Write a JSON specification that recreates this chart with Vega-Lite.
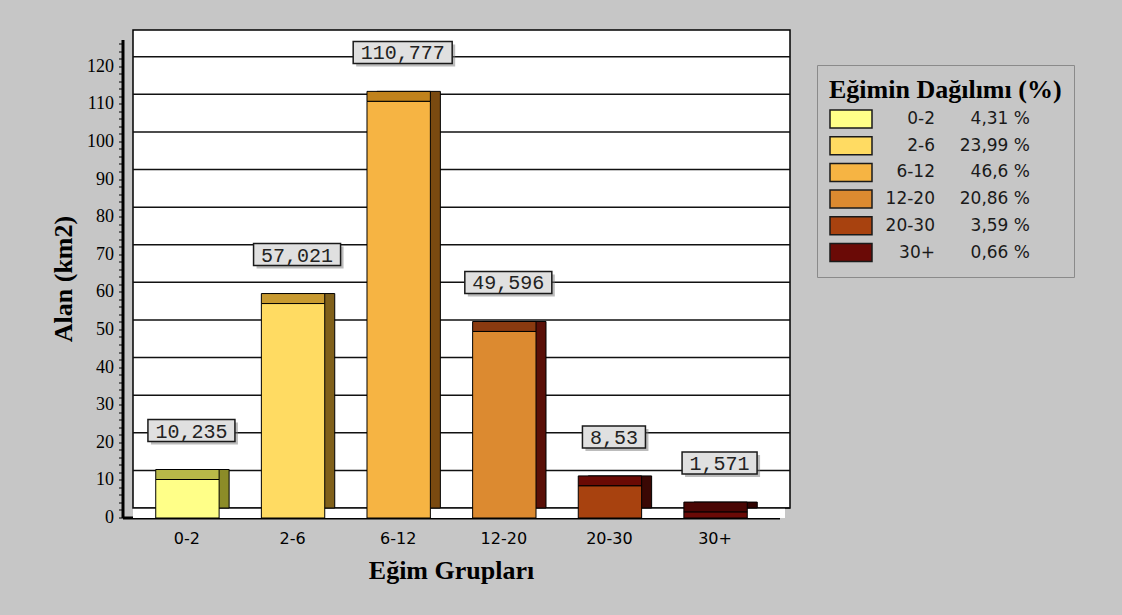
{
  "$schema": "https://vega.github.io/schema/vega-lite/v6.json",
  "width": 657,
  "height": 478,
  "autosize": {"type": "none"},
  "padding": {"left": 133, "top": 30, "right": 332, "bottom": 107},
  "background": "#c6c6c6",
  "view": {"fill": "#ffffff", "stroke": "#000000", "strokeWidth": 1.5},
  "config": {
    "axisX": {
      "titleFont": "Liberation Serif", "titleFontSize": 26, "titleFontWeight": "bold",
      "titleColor": "#000000", "titlePadding": 11,
      "labelFont": "DejaVu Sans", "labelFontSize": 16, "labelColor": "#000000", "labelAngle": 0, "labelPadding": 13,
      "ticks": false, "domainColor": "#000000", "domainWidth": 3, "grid": false,
      "offset": 20, "translate": -10
    },
    "axisY": {
      "titleFont": "Liberation Serif", "titleFontSize": 26, "titleFontWeight": "bold",
      "titleColor": "#000000", "titlePadding": 10,
      "labelOverlap": false, "labelFont": "Liberation Serif", "labelFontSize": 18, "labelColor": "#000000", "labelPadding": 5,
      "tickColor": "#000000", "tickSize": 4, "tickWidth": 1,
      "domainColor": "#000000", "domainWidth": 3, "grid": false,
      "offset": 20, "translate": 10
    }
  },
  "datasets": {
    "slope": [
      {"grup": "0-2", "alan": 10.235, "etiket": "10,235", "yuzde": "4,31 %"},
      {"grup": "2-6", "alan": 57.021, "etiket": "57,021", "yuzde": "23,99 %"},
      {"grup": "6-12", "alan": 110.777, "etiket": "110,777", "yuzde": "46,6 %"},
      {"grup": "12-20", "alan": 49.596, "etiket": "49,596", "yuzde": "20,86 %"},
      {"grup": "20-30", "alan": 8.53, "etiket": "8,53", "yuzde": "3,59 %"},
      {"grup": "30+", "alan": 1.571, "etiket": "1,571", "yuzde": "0,66 %"}
    ],
    "grid": [
      {"v": 0}, {"v": 10}, {"v": 20}, {"v": 30}, {"v": 40}, {"v": 50}, {"v": 60},
      {"v": 70}, {"v": 80}, {"v": 90}, {"v": 100}, {"v": 110}, {"v": 120}
    ],
    "floor": [{"v": 0}]
  },
  "data": {"name": "slope"},
  "resolve": {"scale": {"color": "independent", "shape": "independent"}},
  "layer": [
    {
      "data": {"name": "floor"},
      "mark": {"type": "rule", "color": "#ffffff", "strokeWidth": 10, "yOffset": 5, "xOffset": -5, "x2Offset": -5},
      "encoding": {
        "y": {"field": "v", "type": "quantitative", "title": "Alan (km2)", "scale": {"domain": [0, 127.1], "nice": false},
          "axis": {"values": [0, 2, 4, 6, 8, 10, 12, 14, 16, 18, 20, 22, 24, 26, 28, 30, 32, 34, 36, 38, 40, 42, 44, 46, 48, 50, 52, 54, 56, 58, 60, 62, 64, 66, 68, 70, 72, 74, 76, 78, 80, 82, 84, 86, 88, 90, 92, 94, 96, 98, 100, 102, 104, 106, 108, 110, 112, 114, 116, 118, 120, 122, 124, 126], "labelExpr": "datum.value % 10 === 0 ? datum.label : ''"}}
      }
    },
    {
      "data": {"name": "grid"},
      "mark": {"type": "rule", "color": "#111111", "strokeWidth": 1.5},
      "encoding": {
        "y": {"field": "v", "type": "quantitative", "title": "Alan (km2)", "scale": {"domain": [0, 127.1], "nice": false},
          "axis": {"values": [0, 2, 4, 6, 8, 10, 12, 14, 16, 18, 20, 22, 24, 26, 28, 30, 32, 34, 36, 38, 40, 42, 44, 46, 48, 50, 52, 54, 56, 58, 60, 62, 64, 66, 68, 70, 72, 74, 76, 78, 80, 82, 84, 86, 88, 90, 92, 94, 96, 98, 100, 102, 104, 106, 108, 110, 112, 114, 116, 118, 120, 122, 124, 126], "labelExpr": "datum.value % 10 === 0 ? datum.label : ''"}}
      }
    },
    {
      "mark": {"type": "bar", "stroke": "#000000", "strokeWidth": 1},
      "encoding": {
        "x": {"field": "grup", "type": "nominal", "sort": null, "title": "Eğim Grupları", "scale": {"paddingInner": 0.4, "paddingOuter": 0.31}},
        "y": {"field": "alan", "type": "quantitative", "title": "Alan (km2)", "scale": {"domain": [0, 127.1], "nice": false},
          "axis": {"values": [0, 2, 4, 6, 8, 10, 12, 14, 16, 18, 20, 22, 24, 26, 28, 30, 32, 34, 36, 38, 40, 42, 44, 46, 48, 50, 52, 54, 56, 58, 60, 62, 64, 66, 68, 70, 72, 74, 76, 78, 80, 82, 84, 86, 88, 90, 92, 94, 96, 98, 100, 102, 104, 106, 108, 110, 112, 114, 116, 118, 120, 122, 124, 126], "labelExpr": "datum.value % 10 === 0 ? datum.label : ''"}},
        "color": {"field": "grup", "type": "nominal", "sort": null, "legend": null,
          "scale": {"range": ["#8c8c28", "#80601a", "#7a4a10", "#5a1008", "#3a0804", "#300402"]}}
      }
    },
    {
      "mark": {"type": "bar", "stroke": "#000000", "strokeWidth": 1, "xOffset": -10, "x2Offset": -10, "y2Offset": 10},
      "encoding": {
        "x": {"field": "grup", "type": "nominal", "sort": null, "title": "Eğim Grupları", "scale": {"paddingInner": 0.4, "paddingOuter": 0.31}},
        "y": {"field": "alan", "type": "quantitative", "title": "Alan (km2)", "scale": {"domain": [0, 127.1], "nice": false},
          "axis": {"values": [0, 2, 4, 6, 8, 10, 12, 14, 16, 18, 20, 22, 24, 26, 28, 30, 32, 34, 36, 38, 40, 42, 44, 46, 48, 50, 52, 54, 56, 58, 60, 62, 64, 66, 68, 70, 72, 74, 76, 78, 80, 82, 84, 86, 88, 90, 92, 94, 96, 98, 100, 102, 104, 106, 108, 110, 112, 114, 116, 118, 120, 122, 124, 126], "labelExpr": "datum.value % 10 === 0 ? datum.label : ''"}},
        "y2": {"field": "alan"},
        "color": {"field": "grup", "type": "nominal", "sort": null, "legend": null,
          "scale": {"range": ["#b8b848", "#c89a30", "#c0821c", "#8a3a10", "#6a0a04", "#4a0604"]}}
      }
    },
    {
      "mark": {"type": "bar", "stroke": "#000000", "strokeWidth": 1, "xOffset": -10, "x2Offset": -10, "yOffset": 10, "y2Offset": 10},
      "encoding": {
        "x": {"field": "grup", "type": "nominal", "sort": null, "title": "Eğim Grupları", "scale": {"paddingInner": 0.4, "paddingOuter": 0.31}},
        "y": {"field": "alan", "type": "quantitative", "title": "Alan (km2)", "scale": {"domain": [0, 127.1], "nice": false},
          "axis": {"values": [0, 2, 4, 6, 8, 10, 12, 14, 16, 18, 20, 22, 24, 26, 28, 30, 32, 34, 36, 38, 40, 42, 44, 46, 48, 50, 52, 54, 56, 58, 60, 62, 64, 66, 68, 70, 72, 74, 76, 78, 80, 82, 84, 86, 88, 90, 92, 94, 96, 98, 100, 102, 104, 106, 108, 110, 112, 114, 116, 118, 120, 122, 124, 126], "labelExpr": "datum.value % 10 === 0 ? datum.label : ''"}},
        "color": {
          "field": "grup", "type": "nominal", "sort": null,
          "scale": {"range": ["#ffff88", "#ffdb62", "#f6b443", "#dc8a30", "#a8420f", "#6a0a06"]},
          "legend": {
            "title": "Eğimin Dağılımı (%)", "orient": "none", "legendX": 684, "legendY": 35,
            "padding": 12, "strokeColor": "#8a8a8a",
            "titleFont": "Liberation Serif", "titleFontSize": 26, "titleFontWeight": "bold", "titleColor": "#000000",
            "titlePadding": 5, "titleAnchor": "start", "titleLimit": 400,
            "symbolType": "M-2.1,-0.9H2.1V0.9H-2.1Z", "symbolSize": 400, "symbolStrokeColor": "#1a1a1a",
            "symbolStrokeWidth": 1.5, "symbolOffset": 11, "symbolOpacity": 1,
            "labelFont": "DejaVu Sans", "labelFontSize": 17, "labelColor": "#1a1a1a", "labelAlign": "right",
            "labelOffset": 73, "labelLimit": 200, "rowPadding": 2.7
          }
        }
      }
    },
    {
      "mark": {"type": "point", "filled": true, "fill": "#7a7a7a", "opacity": 0.5, "size": 400, "strokeWidth": 0, "xOffset": -3, "yOffset": -36},
      "encoding": {
        "x": {"field": "grup", "type": "nominal", "sort": null, "title": "Eğim Grupları", "scale": {"paddingInner": 0.4, "paddingOuter": 0.31}},
        "y": {"field": "alan", "type": "quantitative", "title": "Alan (km2)", "scale": {"domain": [0, 127.1], "nice": false},
          "axis": {"values": [0, 2, 4, 6, 8, 10, 12, 14, 16, 18, 20, 22, 24, 26, 28, 30, 32, 34, 36, 38, 40, 42, 44, 46, 48, 50, 52, 54, 56, 58, 60, 62, 64, 66, 68, 70, 72, 74, 76, 78, 80, 82, 84, 86, 88, 90, 92, 94, 96, 98, 100, 102, 104, 106, 108, 110, 112, 114, 116, 118, 120, 122, 124, 126], "labelExpr": "datum.value % 10 === 0 ? datum.label : ''"}},
        "shape": {"field": "grup", "type": "nominal", "sort": null, "legend": null,
          "scale": {"range": [
            "M-4.35,-1.1H4.35V1.1H-4.35Z", "M-4.35,-1.1H4.35V1.1H-4.35Z", "M-4.95,-1.1H4.95V1.1H-4.95Z",
            "M-4.35,-1.1H4.35V1.1H-4.35Z", "M-3.15,-1.1H3.15V1.1H-3.15Z", "M-3.75,-1.1H3.75V1.1H-3.75Z"]}}
      }
    },
    {
      "mark": {"type": "point", "filled": true, "fill": "#e0e0e0", "stroke": "#1a1a1a", "strokeWidth": 1.5, "opacity": 1, "size": 400, "xOffset": -6, "yOffset": -39},
      "encoding": {
        "x": {"field": "grup", "type": "nominal", "sort": null, "title": "Eğim Grupları", "scale": {"paddingInner": 0.4, "paddingOuter": 0.31}},
        "y": {"field": "alan", "type": "quantitative", "title": "Alan (km2)", "scale": {"domain": [0, 127.1], "nice": false},
          "axis": {"values": [0, 2, 4, 6, 8, 10, 12, 14, 16, 18, 20, 22, 24, 26, 28, 30, 32, 34, 36, 38, 40, 42, 44, 46, 48, 50, 52, 54, 56, 58, 60, 62, 64, 66, 68, 70, 72, 74, 76, 78, 80, 82, 84, 86, 88, 90, 92, 94, 96, 98, 100, 102, 104, 106, 108, 110, 112, 114, 116, 118, 120, 122, 124, 126], "labelExpr": "datum.value % 10 === 0 ? datum.label : ''"}},
        "shape": {"field": "grup", "type": "nominal", "sort": null, "legend": null,
          "scale": {"range": [
            "M-4.35,-1.1H4.35V1.1H-4.35Z", "M-4.35,-1.1H4.35V1.1H-4.35Z", "M-4.95,-1.1H4.95V1.1H-4.95Z",
            "M-4.35,-1.1H4.35V1.1H-4.35Z", "M-3.15,-1.1H3.15V1.1H-3.15Z", "M-3.75,-1.1H3.75V1.1H-3.75Z"]}}
      }
    },
    {
      "mark": {"type": "text", "font": "Liberation Mono", "fontSize": 20, "color": "#222222", "align": "center", "baseline": "middle", "xOffset": -6, "yOffset": -38},
      "encoding": {
        "x": {"field": "grup", "type": "nominal", "sort": null, "title": "Eğim Grupları", "scale": {"paddingInner": 0.4, "paddingOuter": 0.31}},
        "y": {"field": "alan", "type": "quantitative", "title": "Alan (km2)", "scale": {"domain": [0, 127.1], "nice": false},
          "axis": {"values": [0, 2, 4, 6, 8, 10, 12, 14, 16, 18, 20, 22, 24, 26, 28, 30, 32, 34, 36, 38, 40, 42, 44, 46, 48, 50, 52, 54, 56, 58, 60, 62, 64, 66, 68, 70, 72, 74, 76, 78, 80, 82, 84, 86, 88, 90, 92, 94, 96, 98, 100, 102, 104, 106, 108, 110, 112, 114, 116, 118, 120, 122, 124, 126], "labelExpr": "datum.value % 10 === 0 ? datum.label : ''"}},
        "text": {"field": "etiket", "type": "nominal"}
      }
    },
    {
      "mark": {"type": "point", "opacity": 0, "size": 10},
      "encoding": {
        "x": {"field": "grup", "type": "nominal", "sort": null, "title": "Eğim Grupları", "scale": {"paddingInner": 0.4, "paddingOuter": 0.31}},
        "y": {"field": "alan", "type": "quantitative", "title": "Alan (km2)", "scale": {"domain": [0, 127.1], "nice": false},
          "axis": {"values": [0, 2, 4, 6, 8, 10, 12, 14, 16, 18, 20, 22, 24, 26, 28, 30, 32, 34, 36, 38, 40, 42, 44, 46, 48, 50, 52, 54, 56, 58, 60, 62, 64, 66, 68, 70, 72, 74, 76, 78, 80, 82, 84, 86, 88, 90, 92, 94, 96, 98, 100, 102, 104, 106, 108, 110, 112, 114, 116, 118, 120, 122, 124, 126], "labelExpr": "datum.value % 10 === 0 ? datum.label : ''"}},
        "shape": {
          "field": "yuzde", "type": "nominal", "sort": null,
          "scale": {"range": [
            "M-2.1,-0.9H2.1V0.9H-2.1Z", "M-2.1,-0.9H2.1V0.9H-2.1Z", "M-2.1,-0.9H2.1V0.9H-2.1Z",
            "M-2.1,-0.9H2.1V0.9H-2.1Z", "M-2.1,-0.9H2.1V0.9H-2.1Z", "M-2.1,-0.9H2.1V0.9H-2.1Z"]},
          "legend": {
            "title": null, "orient": "none", "legendX": 784, "legendY": 78, "padding": 0,
            "symbolOpacity": 0, "symbolSize": 400, "symbolOffset": 11, "symbolStrokeWidth": 1.5,
            "labelFont": "DejaVu Sans", "labelFontSize": 17, "labelColor": "#1a1a1a", "labelAlign": "right",
            "labelOffset": 80, "labelLimit": 200, "rowPadding": 6.7
          }
        }
      }
    }
  ]
}
